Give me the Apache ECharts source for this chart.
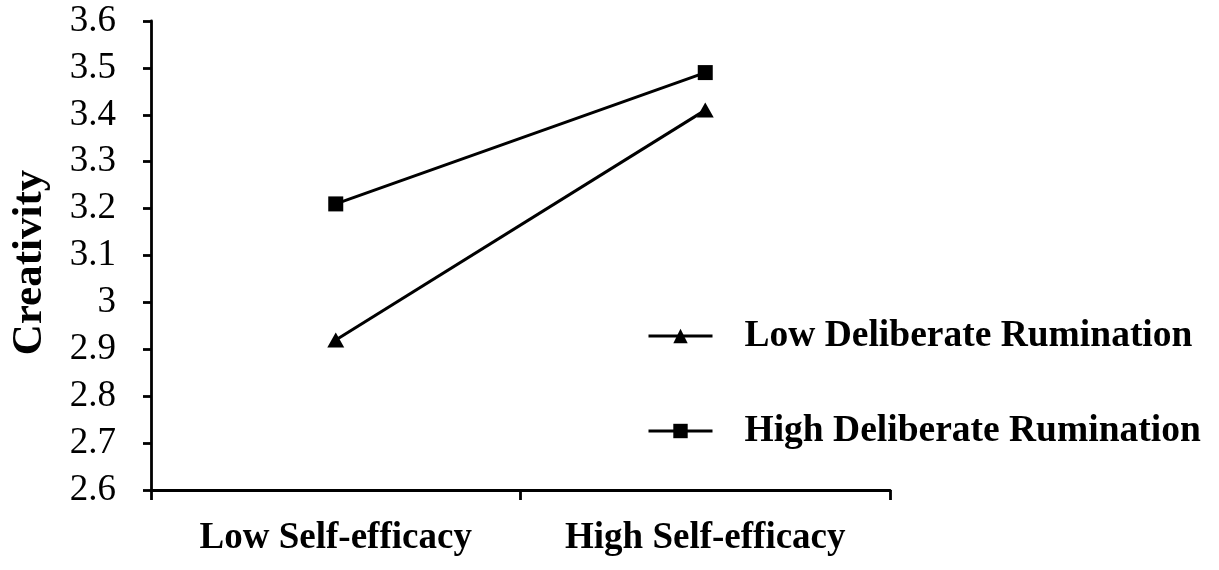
<!DOCTYPE html>
<html>
<head>
<meta charset="utf-8">
<script src="https://cdn.jsdelivr.net/npm/echarts@6/dist/echarts.min.js"></script>
<style>
html,body{margin:0;padding:0;background:#fff;}
#chart{width:1219px;height:570px;}
</style>
</head>
<body>
<div id="chart"></div>
<script>
const categories = ['Low Self-efficacy', 'High Self-efficacy'];
const lowRumination = [2.92, 3.41];
const highRumination = [3.21, 3.49];
const seriesNames = ['Low Deliberate Rumination', 'High Deliberate Rumination'];
const yAxisName = 'Creativity';

const FONT = "'Times New Roman', 'Liberation Serif', serif";
const chart = echarts.init(document.getElementById('chart'));
chart.setOption({
  backgroundColor: '#fff',
  animation: false,
  grid: { left: 145, right: 329, top: 21, bottom: 80, containLabel: false },
  legend: {
    orient: 'vertical',
    left: 642,
    top: 310,
    itemWidth: 64,
    itemHeight: 18,
    itemGap: 53,
    lineStyle: { width: 3 },
    textStyle: { fontFamily: FONT, fontWeight: 'bold', fontSize: 37.5, color: '#000', lineHeight: 42, padding: [0, 0, 0, 27] },
    data: seriesNames
  },
  xAxis: {
    type: 'category',
    data: categories,
    boundaryGap: true,
    axisLine: { lineStyle: { color: '#000', width: 2.8 } },
    axisTick: { show: true, length: 10, lineStyle: { color: '#000', width: 2.8 } },
    axisLabel: { fontFamily: FONT, fontWeight: 'bold', fontSize: 37, color: '#000', margin: 30 },
    splitLine: { show: false }
  },
  yAxis: {
    type: 'value',
    min: 2.6,
    max: 3.6,
    interval: 0.1,
    name: yAxisName,
    nameLocation: 'middle',
    nameGap: 100,
    nameRotate: 90,
    nameTextStyle: { fontFamily: FONT, fontWeight: 'bold', fontSize: 43, color: '#000', padding: [0, 14, 0, 0] },
    axisLine: { show: true, lineStyle: { color: '#000', width: 2.8 } },
    axisTick: { show: true, length: 8, lineStyle: { color: '#000', width: 2.8 } },
    axisLabel: {
      fontFamily: FONT, fontSize: 37, color: '#000', margin: 35,
      formatter: v => String(Math.round(v * 10) / 10)
    },
    splitLine: { show: false }
  },
  series: [
    {
      name: seriesNames[0],
      type: 'line',
      data: lowRumination,
      symbol: 'triangle',
      symbolSize: [17, 15],
      lineStyle: { color: '#000', width: 3 },
      itemStyle: { color: '#000' }
    },
    {
      name: seriesNames[1],
      type: 'line',
      data: highRumination,
      symbol: 'rect',
      symbolSize: 15,
      lineStyle: { color: '#000', width: 3 },
      itemStyle: { color: '#000' }
    }
  ]
});
</script>
</body>
</html>
